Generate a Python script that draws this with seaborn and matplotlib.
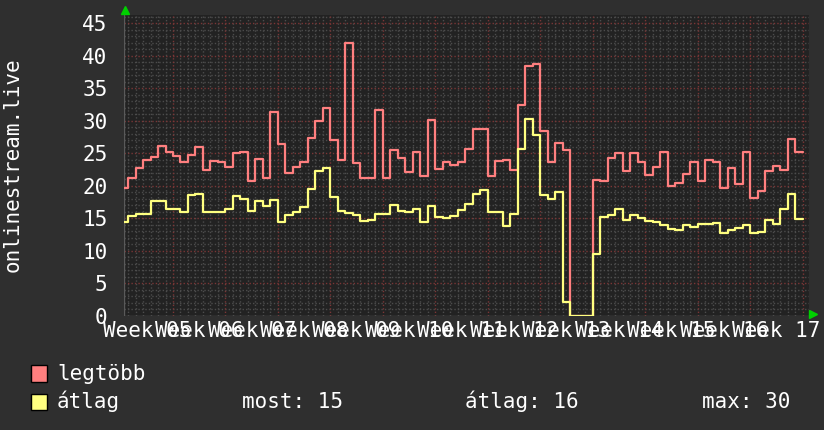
import numpy as np
import pandas as pd
import matplotlib
matplotlib.use('Agg')
import matplotlib.pyplot as plt
import matplotlib.transforms as mtransforms
from matplotlib.patches import Rectangle
import seaborn as sns

# daily values, first value is the day starting one week before the "Week 05" line
legtobb = [19.6, 21.2, 22.8, 24.0, 24.4, 26.1, 25.2,
           24.6, 23.6, 24.7, 26.0, 22.4, 23.8, 23.6,
           22.9, 25.1, 25.2, 20.8, 24.1, 21.2, 31.4,
           26.4, 22.0, 22.9, 23.6, 27.4, 30.0, 32.0,
           27.0, 23.9, 42.0, 23.5, 21.2, 21.2, 31.6,
           21.2, 25.5, 24.3, 22.2, 25.2, 21.5, 30.1,
           22.6, 23.7, 23.2, 23.7, 25.7, 28.8, 28.8,
           21.5, 23.8, 24.0, 22.4, 32.4, 38.5, 38.8,
           28.4, 23.7, 26.6, 25.5, 0.0, 0.0, 0.0,
           20.9, 20.8, 24.3, 25.0, 22.3, 25.0, 23.6,
           21.6, 22.9, 25.2, 19.9, 20.5, 21.8, 23.6,
           20.8, 23.9, 23.6, 19.7, 22.8, 20.3, 25.2,
           18.2, 19.2, 22.3, 23.1, 22.4, 27.2, 25.2]
atlag = [14.5, 15.4, 15.7, 15.6, 17.6, 17.7, 16.5,
         16.4, 16.0, 18.6, 18.7, 15.9, 16.0, 15.9,
         16.4, 18.4, 17.9, 16.2, 17.7, 16.9, 17.8,
         14.4, 15.5, 16.0, 16.8, 19.5, 22.3, 22.8,
         18.3, 16.1, 15.8, 15.5, 14.6, 14.8, 15.6,
         15.6, 17.0, 16.1, 15.9, 16.4, 14.4, 16.9,
         15.2, 15.0, 15.4, 16.3, 17.2, 18.7, 19.4,
         15.9, 16.0, 13.8, 15.6, 25.7, 30.3, 27.8,
         18.6, 17.9, 19.1, 2.2, 0.0, 0.0, 0.0,
         9.5, 15.2, 15.5, 16.5, 14.7, 15.5, 15.0,
         14.6, 14.5, 14.0, 13.3, 13.2, 14.0, 13.7,
         14.1, 14.1, 14.3, 12.8, 13.2, 13.5, 13.9,
         12.8, 12.9, 14.7, 14.1, 16.4, 18.8, 14.9]
week_labels = ['Week %02d' % w for w in range(5, 18)]
series_names = ['legtöbb', 'átlag']
series_colors = ['#ff7f7f', '#ffff80']
legend_stats = ['most: 15', 'átlag: 16', 'max: 30']

days = np.arange(-7, -7 + len(legtobb) + 1)
rows = []
for name, vals in zip(series_names, [legtobb, atlag]):
    v = vals + [vals[-1]]  # close the last step
    rows.append(pd.DataFrame({'day': days, 'value': v, 'series': name}))
df = pd.concat(rows, ignore_index=True)

BG = '#2f2f2f'
PLOT_BG = '#222222'
FG = '#ffffff'

sns.set_theme(style='dark', rc={'figure.facecolor': BG, 'axes.facecolor': PLOT_BG,
                                'text.color': FG, 'xtick.color': FG, 'ytick.color': FG})
plt.rcParams['font.family'] = ['DejaVu Sans Mono', 'DejaVu Sans']

W, H = 824, 430
fig = plt.figure(figsize=(W / 100, H / 100), dpi=100)
left_px, right_px, top_px, bot_px = 124, 809.5, 15, 315.8
ax = fig.add_axes([left_px / W, 1 - bot_px / H, (right_px - left_px) / W, (bot_px - top_px) / H])

px_per_day = 52.47 / 7
x0 = (left_px - 173) / px_per_day
x1 = (right_px - 173) / px_per_day
ax.set_xlim(x0, x1)
ax.set_ylim(0, (bot_px - top_px) / 6.5)

# grid, rrdtool style
for d in range(-6, 85):
    major = d % 7 == 0
    ax.axvline(d, color='#7a3636' if major else '#4c4c4c', lw=1,
               ls=(0, (1, 1.5)), zorder=0.6 if major else 0.5)
for v in range(1, 47):
    major = v % 5 == 0
    ax.axhline(v, color='#7a3636' if major else '#4c4c4c', lw=1,
               ls=(0, (1, 1.5)), zorder=0.6 if major else 0.5)

sns.lineplot(data=df, x='day', y='value', hue='series', palette=series_colors,
             hue_order=series_names, drawstyle='steps-post', linewidth=1.6,
             legend=False, ax=ax, zorder=3)

for s in ax.spines.values():
    s.set_visible(False)
ax.axhline(0, color='#5a5a5a', lw=1, zorder=2)
ax.axvline(x0, color='#5a5a5a', lw=1, zorder=2)

ax.set_yticks(range(0, 46, 5))
ax.set_yticklabels([str(v) for v in range(0, 46, 5)], fontsize=15)
ax.set_xticks([])
ax.tick_params(axis='y', length=0, pad=12)
ax.set_xlabel('')
ax.set_ylabel('')

trans = mtransforms.blended_transform_factory(ax.transData, fig.transFigure)
for k, lab in enumerate(week_labels):
    ax.text(7 * k - 3.5, 1 - 337 / H, lab, transform=trans, ha='center', va='baseline',
            fontsize=15, color=FG, clip_on=False)

fig.text(13 / W, 1 - 165 / H, 'onlinestream.live', rotation=90, ha='center', va='center',
         fontsize=15, color=FG)

# arrows
ax.plot([0.002], [(bot_px - 10) / (bot_px - top_px)], marker='^', color='#00d000', ms=6,
        transform=ax.transAxes, clip_on=False)
ax.plot([(813 - left_px) / (right_px - left_px)], [0.006], marker='>', color='#00d000', ms=6,
        transform=ax.transAxes, clip_on=False)

# legend
for i, (name, col) in enumerate(zip(series_names, series_colors)):
    ytop = 365 + 28.5 * i
    fig.patches.append(Rectangle((31 / W, 1 - (ytop + 16.5) / H), 16 / W, 16.5 / H,
                                 transform=fig.transFigure, facecolor=col,
                                 edgecolor='black', lw=1))
    fig.text(57 / W, 1 - (380 + 28.5 * i) / H, name, fontsize=15, color=FG, va='baseline')
for txt, xp in zip(legend_stats, [242, 465, 702]):
    fig.text(xp / W, 1 - 408.5 / H, txt, fontsize=15, color=FG, va='baseline')

fig.savefig('out.png', dpi=100, facecolor=BG)
